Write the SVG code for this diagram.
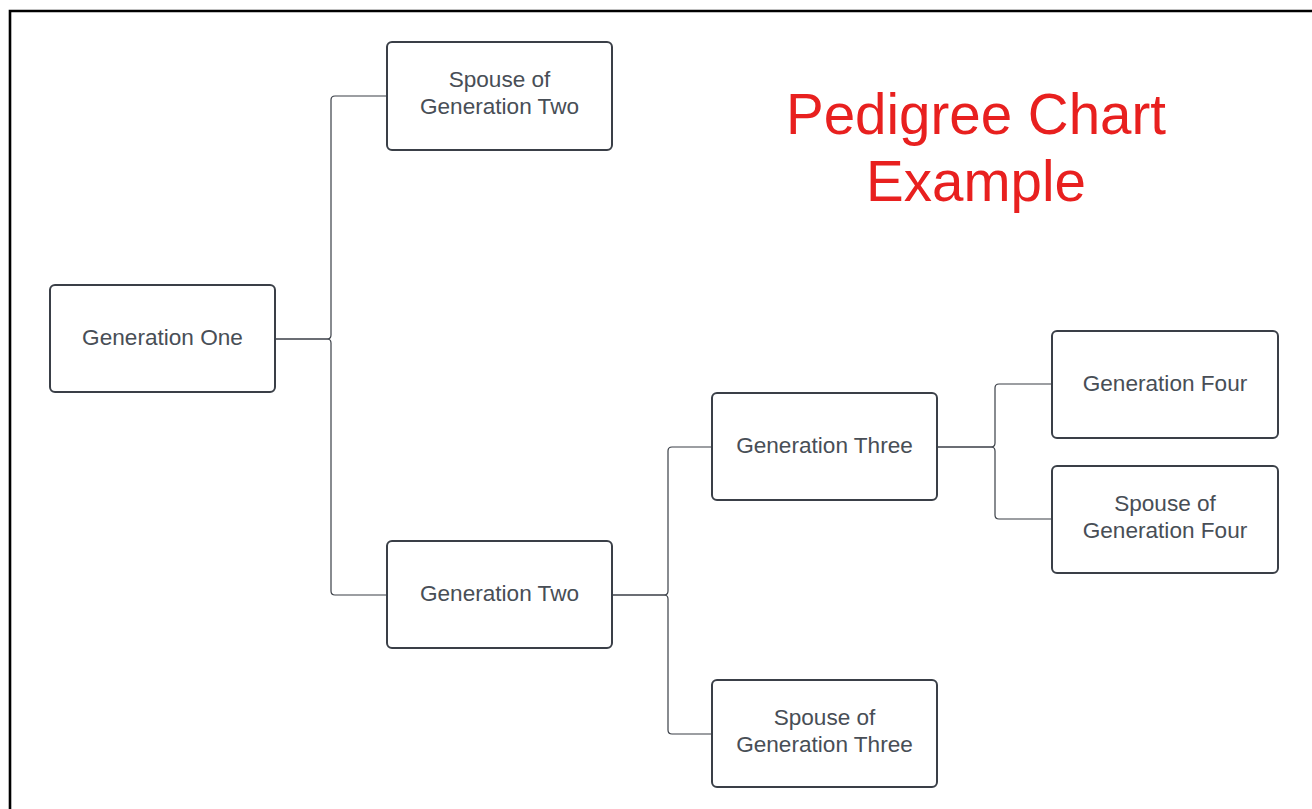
<svg xmlns="http://www.w3.org/2000/svg" width="1312" height="809" viewBox="0 0 1312 809">
<style>
.node rect{fill:#fff;stroke:#3a3f47;stroke-width:2}
.node text{font-family:"Liberation Sans",Arial,sans-serif;font-size:22.6px;fill:#484e56;text-anchor:middle}
.conn path{fill:none;stroke:#3a3f47;stroke-width:1.2}
.title{font-family:"Liberation Sans",Arial,sans-serif;font-size:56.5px;fill:#e8201f;text-anchor:middle}
</style>
<rect x="0" y="0" width="1312" height="809" fill="#fff"/>
<path d="M10,820 V11 H1320" fill="none" stroke="#000" stroke-width="2.6"/>
<g id="connectors" class="conn">
<path d="M275,339 H327 Q331,339 331,335 V100 Q331,96 335,96 H387"/>
<path d="M275,339 H327 Q331,339 331,343 V591 Q331,595 335,595 H387"/>
<path d="M612,595 H664 Q668,595 668,591 V451 Q668,447 672,447 H712"/>
<path d="M612,595 H664 Q668,595 668,599 V730 Q668,734 672,734 H712"/>
<path d="M937,447 H991 Q995,447 995,443 V388 Q995,384 999,384 H1052"/>
<path d="M937,447 H991 Q995,447 995,451 V515 Q995,519 999,519 H1052"/>
</g>
<g id="gen1" class="node"><rect x="50" y="285" width="225" height="107" rx="5"/><text x="162.5" y="345">Generation One</text></g>
<g id="spouse2" class="node"><rect x="387" y="42" width="225" height="108" rx="5"/><text x="499.5" y="87">Spouse of</text><text x="499.5" y="114">Generation Two</text></g>
<g id="gen2" class="node"><rect x="387" y="541" width="225" height="107" rx="5"/><text x="499.5" y="601">Generation Two</text></g>
<g id="gen3" class="node"><rect x="712" y="393" width="225" height="107" rx="5"/><text x="824.5" y="453">Generation Three</text></g>
<g id="spouse3" class="node"><rect x="712" y="680" width="225" height="107" rx="5"/><text x="824.5" y="725">Spouse of</text><text x="824.5" y="752">Generation Three</text></g>
<g id="gen4" class="node"><rect x="1052" y="331" width="226" height="107" rx="5"/><text x="1165" y="391">Generation Four</text></g>
<g id="spouse4" class="node"><rect x="1052" y="466" width="226" height="107" rx="5"/><text x="1165" y="511">Spouse of</text><text x="1165" y="538">Generation Four</text></g>
<g id="title"><text class="title" x="976" y="134">Pedigree Chart</text><text class="title" x="976" y="201">Example</text></g>
</svg>
